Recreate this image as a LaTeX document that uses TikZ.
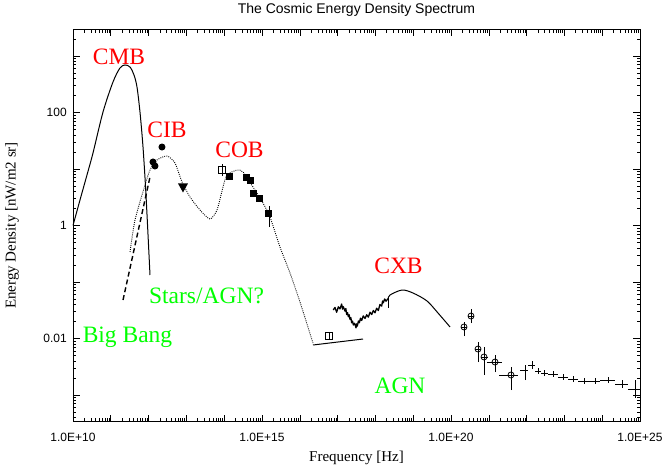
\documentclass[tikz,border=0pt]{standalone}
\usepackage{fontspec}
\setmainfont{Liberation Serif}
\setsansfont{Liberation Sans}
\usepackage{tikz}
\usetikzlibrary{positioning}
\definecolor{agngreen}{RGB}{0,255,0}

% error bar: x, y, xlo, xhi, ylo, yhi
\newcommand{\errpt}[6]{\draw (#3,#2) -- (#4,#2) (#1,#5) -- (#1,#6);}

\begin{document}
\begin{tikzpicture}[x=37.8pt,y=56.5pt,
  hot/.style={text=red,font=\fontsize{23.5}{26}\selectfont,anchor=base,inner sep=0pt},
  cool/.style={text=agngreen,font=\fontsize{23.5}{26}\selectfont,anchor=base,inner sep=0pt},
  ticklbl/.style={font=\sffamily\fontsize{12}{14}\selectfont,inner sep=0pt}]
\useasboundingbox (8.069,-4.274) rectangle (25.635,3.991);
% frame
\draw[line width=0.9pt] (10,-3.47) rectangle (25,3.47);
\foreach \d in {10,...,24}
  \foreach \m in {1,...,9}{
    \pgfmathsetmacro\xx{\d+log10(\m)}
    \ifnum\m=1 \def\ticklen{7pt}\else\def\ticklen{3.5pt}\fi
    \draw[line width=0.6pt] (\xx,-3.47) -- ++(0,\ticklen) (\xx,3.47) -- ++(0,-\ticklen);
  }
\begin{scope}
\clip (10,-3.47) rectangle (25,3.47);
\foreach \d in {-4,...,3}
  \foreach \m in {1,...,9}{
    \pgfmathsetmacro\yy{\d+log10(\m)}
    \ifnum\m=1 \def\ticklen{7pt}\else\def\ticklen{3.5pt}\fi
    \draw[line width=0.6pt] (10,\yy) -- ++(\ticklen,0) (25,\yy) -- ++(-\ticklen,0);
  }
\end{scope}
\foreach \e in {10,15,20,25}
  \node[ticklbl] (fx\e) at (\e,-3.745) {1.0E+\e};
\node[ticklbl,anchor=east] (fy2) at (9.84,2) {100};
\node[ticklbl,anchor=east] (fy0) at (9.84,0) {1};
\node[ticklbl,anchor=east] (fym2) at (9.84,-2) {0.01};
\node[font=\sffamily\fontsize{14}{16}\selectfont] (title) at (17.5,3.814) {The Cosmic Energy Density Spectrum};
\node[font=\fontsize{15}{17}\selectfont] (xlab) at (17.5,-4.115) {Frequency [Hz]};
\node[font=\fontsize{15}{17}\selectfont,rotate=90] (ylab) at (8.386,0) {Energy Density [nW/m2 sr]};

% CMB
\draw[line width=1pt] plot[smooth,tension=0.5] coordinates {(10,0) (10.185,0.451) (10.370,0.894) (10.529,1.283) (10.794,2.009) (11.058,2.540) (11.243,2.788) (11.376,2.841) (11.508,2.805) (11.614,2.664) (11.693,2.451) (11.772,2.009) (11.852,1.389) (11.931,0.540) (12.037,-0.876)};
% stars/agn
\draw[line width=1.4pt,dash pattern=on 5pt off 3pt] (11.323,-1.319) -- (12.037,0.858);
% CIB + COB model
\draw[line width=0.9pt,dash pattern=on 0.9pt off 1.2pt] plot[smooth,tension=0.4] coordinates {(11.508,-0.469) (11.640,0.097) (11.905,0.717) (12.037,0.982) (12.222,1.159) (12.487,1.230) (12.698,1.106) (12.884,0.770) (13.095,0.504) (13.360,0.274) (13.624,0.115) (13.810,0.274) (13.968,0.681) (14.074,0.894) (14.339,0.982) (14.497,0.947) (14.762,0.681) (15.026,0.398) (15.212,0.150) (15.476,-0.381) (15.741,-0.841) (16.005,-1.354) (16.349,-2.080)};
\fill (12.116,1.124) circle (3.5pt);
\fill (12.169,1.053) circle (3.5pt);
\fill (12.354,1.389) circle (3.5pt);
\fill (12.910,0.664) ++(-5pt,4.5pt) -- ++(10pt,0) -- ++(-5pt,-9pt) -- cycle;
% COB
\draw[line width=0.8pt,fill=white] (13.942,0.982) ++(-3.5pt,-3.5pt) rectangle ++(7pt,7pt);
\draw (13.942,0.876) -- (13.942,1.088);
\fill (14.153,0.876) ++(-3.5pt,-3.5pt) rectangle ++(7pt,7pt);
\fill (14.577,0.858) ++(-3.5pt,-3.5pt) rectangle ++(7pt,7pt);
\fill (14.683,0.805) ++(-3.5pt,-3.5pt) rectangle ++(7pt,7pt);
\fill (14.788,0.575) ++(-3.5pt,-3.5pt) rectangle ++(7pt,7pt);
\fill (14.921,0.469) ++(-3.5pt,-3.5pt) rectangle ++(7pt,7pt);
\fill (15.185,0.204) ++(-3.5pt,-3.5pt) rectangle ++(7pt,7pt);
\draw (15.185,-0.027) -- (15.185,0.345);
% UV / CXB
\draw[line width=1pt] (16.349,-2.115) -- (17.672,-2.009);
\draw[line width=0.8pt] (16.772,-1.956) ++(-3.5pt,-3.5pt) rectangle ++(7pt,7pt);
\draw (16.772,-1.956) ++(0,-3.5pt) -- ++(0,7pt);
\draw[line width=1.3pt,line join=round] (16.886,-1.496) -- (16.930,-1.450) -- (16.975,-1.535) -- (17.020,-1.440) -- (17.063,-1.476) -- (17.107,-1.390) -- (17.130,-1.480) -- (17.151,-1.436) -- (17.196,-1.516) -- (17.218,-1.470) -- (17.240,-1.575) -- (17.262,-1.540) -- (17.284,-1.614) -- (17.306,-1.580) -- (17.328,-1.663) -- (17.350,-1.630) -- (17.372,-1.722) -- (17.394,-1.690) -- (17.416,-1.762) -- (17.450,-1.730) -- (17.487,-1.811) -- (17.505,-1.740) -- (17.522,-1.781) -- (17.550,-1.690) -- (17.575,-1.722) -- (17.605,-1.640) -- (17.637,-1.681) -- (17.680,-1.600) -- (17.725,-1.645) -- (17.770,-1.580) -- (17.813,-1.622) -- (17.858,-1.535) -- (17.902,-1.575) -- (17.945,-1.505) -- (17.989,-1.545) -- (18.033,-1.465) -- (18.077,-1.504) -- (18.120,-1.400) -- (18.166,-1.427) -- (18.190,-1.335) -- (18.209,-1.368) -- (18.245,-1.300) -- (18.280,-1.339) -- (18.342,-1.289);
\draw (18.333,-1.265) -- (18.333,-1.460);
\draw[line width=1pt] plot[smooth,tension=0.5] coordinates {(18.342,-1.289) (18.386,-1.230) (18.704,-1.142) (18.995,-1.195) (19.365,-1.336) (19.656,-1.549) (19.974,-1.796)};
% gamma rays
\draw[line width=0.8pt]
  (20.344,-1.796) circle (3pt) (20.529,-1.602) circle (3pt)
  (20.714,-2.186) circle (3pt) (20.873,-2.327) circle (3pt)
  (21.164,-2.416) circle (3pt) (21.587,-2.646) circle (3pt);
\errpt{20.344}{-1.796}{20.265}{20.423}{-1.956}{-1.708}
\errpt{20.529}{-1.602}{20.450}{20.608}{-1.726}{-1.478}
\errpt{20.714}{-2.186}{20.635}{20.793}{-2.416}{-2.062}
\errpt{20.873}{-2.327}{20.794}{20.979}{-2.646}{-2.150}
\errpt{21.164}{-2.416}{20.952}{21.349}{-2.593}{-2.292}
\errpt{21.587}{-2.646}{21.270}{21.772}{-2.912}{-2.504}
\errpt{21.958}{-2.558}{21.825}{22.037}{-2.735}{-2.469}
\errpt{22.143}{-2.469}{22.037}{22.222}{-2.540}{-2.398}
\errpt{22.302}{-2.575}{22.222}{22.381}{-2.628}{-2.522}
\errpt{22.460}{-2.611}{22.381}{22.566}{-2.664}{-2.558}
\errpt{22.698}{-2.628}{22.566}{22.831}{-2.681}{-2.575}
\errpt{22.963}{-2.681}{22.831}{23.095}{-2.734}{-2.628}
\errpt{23.228}{-2.717}{23.095}{23.360}{-2.770}{-2.664}
\errpt{23.519}{-2.752}{23.360}{23.677}{-2.805}{-2.699}
\errpt{23.810}{-2.752}{23.677}{23.942}{-2.805}{-2.699}
\errpt{24.153}{-2.735}{23.942}{24.339}{-2.788}{-2.682}
\errpt{24.524}{-2.805}{24.339}{24.683}{-2.876}{-2.735}
\errpt{24.868}{-2.894}{24.683}{25.000}{-3.053}{-2.735}

% labels
\node[hot] (cmb) at (11.217,2.841) {CMB};
\node[hot] (cib) at (12.487,1.549) {CIB};
\node[hot] (cob) at (14.405,1.212) {COB};
\node[hot] (cxb) at (18.611,-0.841) {CXB};
\node[cool] (stars) at (13.532,-1.372) {Stars/AGN?};
\node[cool] (bigbang) at (11.442,-2.062) {Big Bang};
\node[cool] (agn) at (18.651,-2.965) {AGN};
\end{tikzpicture}
\end{document}
